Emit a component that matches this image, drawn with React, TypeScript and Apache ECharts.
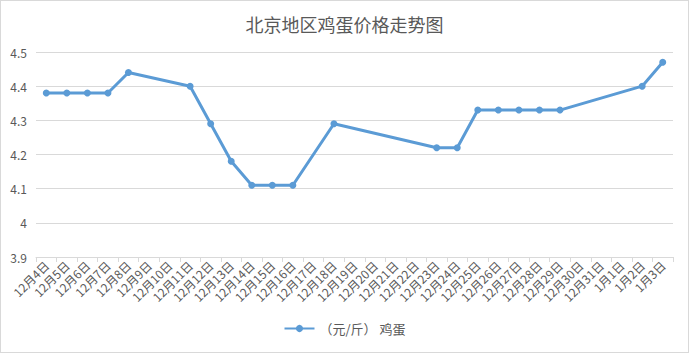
import React, { useEffect, useRef } from "react";
import * as echarts from "echarts";

const categories = [
  "12月4日", "12月5日", "12月6日", "12月7日", "12月8日", "12月9日", "12月10日",
  "12月11日", "12月12日", "12月13日", "12月14日", "12月15日", "12月16日", "12月17日",
  "12月18日", "12月19日", "12月20日", "12月21日", "12月22日", "12月23日", "12月24日",
  "12月25日", "12月26日", "12月27日", "12月28日", "12月29日", "12月30日", "12月31日",
  "1月1日", "1月2日", "1月3日",
];
const eggPrices: (number | null)[] = [
  4.38, 4.38, 4.38, 4.38, 4.44, null, null,
  4.40, 4.29, 4.18, 4.11, 4.11, 4.11, null,
  4.29, null, null, null, null, 4.22, 4.22,
  4.33, 4.33, 4.33, 4.33, 4.33, null, null,
  null, 4.40, 4.47,
];
const seriesName = "（元/斤） 鸡蛋";
const titleText = "北京地区鸡蛋价格走势图";

export default function App() {
  const ref = useRef<HTMLDivElement>(null);
  useEffect(() => {
    document.body.style.margin = "0";
    const chart = echarts.init(ref.current!, null, { renderer: "svg" });
    const font = "'Microsoft YaHei', 'Noto Sans CJK SC', sans-serif";
    chart.setOption({
      animation: false,
      backgroundColor: "#fff",
      title: {
        text: titleText,
        left: "center",
        top: 9,
        textStyle: { fontSize: 18, fontWeight: "normal", color: "#595959", fontFamily: font },
      },
      legend: {
        bottom: 12,
        left: "center",
        itemWidth: 30,
        itemHeight: 9,
        itemGap: 4,
        textStyle: { fontSize: 13, color: "#595959", fontFamily: font },
        data: [seriesName],
      },
      grid: { left: 35, right: 15, top: 51, bottom: 95, containLabel: false },
      xAxis: {
        type: "category",
        data: categories,
        boundaryGap: true,
        axisLine: { lineStyle: { color: "#d9d9d9" } },
        axisTick: { show: true, alignWithLabel: false, length: 5, lineStyle: { color: "#d9d9d9" } },
        axisLabel: {
          interval: 0,
          rotate: 45,
          fontSize: 12,
          color: "#595959",
          fontFamily: font,
          margin: 6,
        },
      },
      yAxis: {
        type: "value",
        min: 3.9,
        max: 4.5,
        interval: 0.1,
        axisLine: { show: false },
        axisTick: { show: false },
        splitLine: { lineStyle: { color: "#d9d9d9" } },
        axisLabel: {
          fontSize: 12,
          color: "#595959",
          fontFamily: font,
          margin: 9,
          formatter: (v: number) => String(Math.round(v * 10) / 10),
        },
      },
      series: [
        {
          name: seriesName,
          type: "line",
          data: eggPrices,
          connectNulls: true,
          symbol: "circle",
          symbolSize: 7,
          itemStyle: { color: "#5B9BD5" },
          lineStyle: { color: "#5B9BD5", width: 3 },
        },
      ],
    });
    return () => chart.dispose();
  }, []);
  return (
    <div
      ref={ref}
      style={{ width: 689, height: 353, boxSizing: "border-box", border: "1px solid #d9d9d9" }}
    />
  );
}
